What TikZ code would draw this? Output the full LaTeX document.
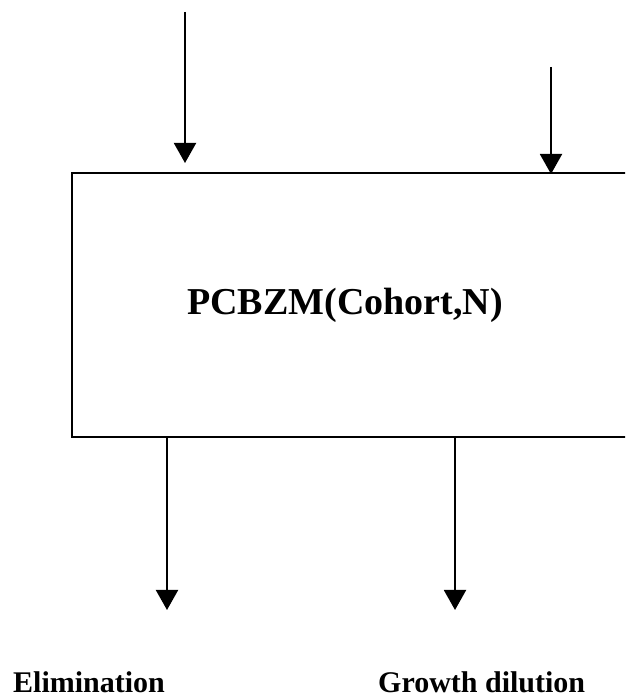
\documentclass[tikz,border=0pt]{standalone}
\usepackage{fontspec}
\setmainfont{Liberation Serif}
\usetikzlibrary{arrows.meta}
\begin{document}
\begin{tikzpicture}[x=1pt,y=1pt,
  flow/.style={line width=2pt,-{Triangle[width=22pt,length=20pt]}},
  lbl/.style={font=\fontsize{30}{36}\selectfont\bfseries,inner sep=0pt,anchor=base west}]
\useasboundingbox (0,0) rectangle (625,700);
\clip (0,0) rectangle (625,700);
\node[draw,line width=2pt,minimum width=600pt,minimum height=264pt,anchor=north west,inner sep=0pt] (box) at (71,528) {};
\node[font=\fontsize{38}{44}\selectfont\bfseries,inner sep=0pt,anchor=base] (title) at (345,385) {PCBZM(Cohort,N)};
\coordinate (in1) at (185,688);
\coordinate (t1) at (185,537);
\coordinate (in2) at (551,633);
\coordinate (t2) at (551,526);
\coordinate (o1) at (167,90);
\coordinate (o2) at (455,90);
\draw[flow] (in1) -- (t1);
\draw[flow] (in2) -- (t2);
\draw[flow] (box.south west -| o1) -- (o1);
\draw[flow] (box.south west -| o2) -- (o2);
\node[lbl] (elim) at (13,7) {Elimination};
\node[lbl] (growth) at (378,7) {Growth dilution};
\end{tikzpicture}
\end{document}
